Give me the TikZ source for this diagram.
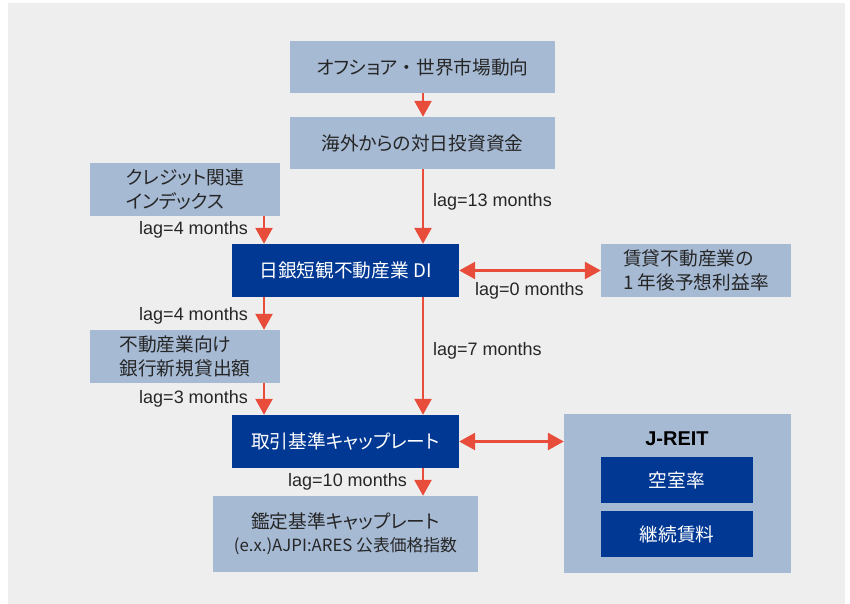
\documentclass[tikz,border=0pt]{standalone}
\usepackage{fontspec}
\setmainfont{Liberation Sans}
\newfontfamily\jp[RawFeature=+palt]{Noto Sans CJK JP}
\newfontfamily\jpfw{Noto Sans CJK JP}
\usetikzlibrary{arrows.meta,calc}
\definecolor{bgc}{HTML}{EEEEEE}
\definecolor{lightb}{HTML}{A6BAD4}
\definecolor{darkb}{HTML}{003893}
\definecolor{redc}{HTML}{E84C3A}
\definecolor{txt}{HTML}{262626}
\begin{document}
\begin{tikzpicture}[x=1pt,y=-1pt,
  lbox/.style={fill=lightb,draw=none,inner sep=0pt,text=txt,font=\fontsize{18.7}{24}\selectfont\jp},
  dbox/.style={fill=darkb,draw=none,inner sep=0pt,text=white,font=\fontsize{18.7}{24}\selectfont\jp},
  lagtxt/.style={text=txt,inner sep=0pt,font=\fontsize{18}{20}\selectfont},
  arr/.style={draw=redc,line width=2.6pt,-{Triangle[length=16pt,width=17pt]}},
  darr/.style={draw=redc,line width=2.6pt,{Triangle[length=16pt,width=17pt]}-{Triangle[length=16pt,width=17pt]}}]
\useasboundingbox (0,0) rectangle (850,604);
\fill[bgc] (8,3) rectangle (845,604);
% boxes
\node[lbox,minimum width=265pt,minimum height=52pt] (off) at (422.5,67) {オフショア{\jpfw ・}世界市場動向};
\node[lbox,minimum width=265pt,minimum height=52pt] (inv) at (422.5,143) {海外からの対日投資資金};
\node[lbox,minimum width=190pt,minimum height=53pt,align=left] (cred) at (185,189.5) {クレジット関連\\インデックス};
\node[dbox,minimum width=227pt,minimum height=53pt] (di) at (345.5,270.5) {日銀短観不動産業 DI};
\node[lbox,minimum width=190pt,minimum height=53pt,align=left] (rent) at (696,270.5) {賃貸不動産業の\\1 年後予想利益率};
\node[lbox,minimum width=190pt,minimum height=53pt,align=left] (bank) at (185,356.5) {不動産業向け\\銀行新規貸出額};
\node[dbox,minimum width=227pt,minimum height=53pt] (cap) at (345.5,441.5) {取引基準キャップレート};
\node[lbox,minimum width=265pt,minimum height=76pt,align=center] (appr) at (345.5,534) {鑑定基準キャップレート\\[-1pt]{\fontsize{16.8}{20}\selectfont (e.x.)AJPI:ARES 公表価格指数}};
\node[lbox,minimum width=227pt,minimum height=159pt] (reit) at (677.5,493.5) {};
\node[text=black,inner sep=0pt,font=\fontsize{20}{22}\selectfont\bfseries] (reitlbl) at (677,439) {J-REIT};
\node[dbox,minimum width=152pt,minimum height=46pt] (vac) at (677,480) {空室率};
\node[dbox,minimum width=152pt,minimum height=46pt] (cont) at (677,534) {継続賃料};
% column coordinates
\coordinate (cl) at (264,0);
\coordinate (cr) at (423,0);
% arrows
\draw[arr] (off.south -| cr) -- (inv.north -| cr);
\draw[arr] (inv.south -| cr) -- (di.north -| cr);
\draw[arr] (cred.south -| cl) -- (di.north -| cl);
\draw[arr] (di.south -| cl) -- (bank.north -| cl);
\draw[arr] (bank.south -| cl) -- (cap.north -| cl);
\draw[arr] (di.south -| cr) -- (cap.north -| cr);
\draw[arr] (cap.south -| cr) -- (appr.north -| cr);
\draw[darr] (di.east) -- (rent.west);
\draw[darr] (cap.east) -- (reit.west |- cap.east);
% labels
\node[lagtxt,anchor=east] (l1) at (248,230) {lag=4 months};
\node[lagtxt,anchor=west] (l2) at (433,202) {lag=13 months};
\node[lagtxt,anchor=west] (l3) at (475,291) {lag=0 months};
\node[lagtxt,anchor=east] (l4) at (248,316) {lag=4 months};
\node[lagtxt,anchor=west] (l5) at (433,351) {lag=7 months};
\node[lagtxt,anchor=east] (l6) at (248,399) {lag=3 months};
\node[lagtxt,anchor=east] (l7) at (407,482) {lag=10 months};
\end{tikzpicture}
\end{document}
